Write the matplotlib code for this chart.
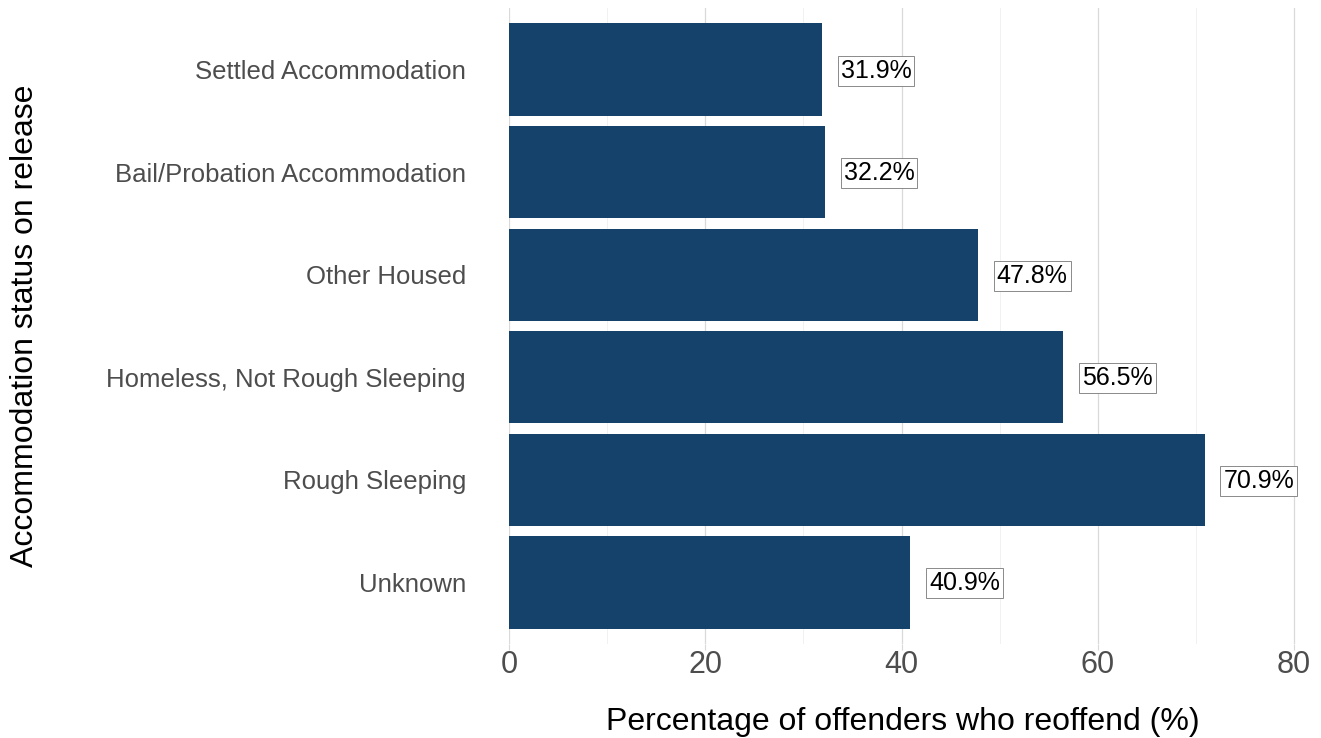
import matplotlib
matplotlib.use("Agg")
import matplotlib.pyplot as plt

# Data
categories = ["Settled Accommodation", "Bail/Probation Accommodation", "Other Housed",
              "Homeless, Not Rough Sleeping", "Rough Sleeping", "Unknown"]
values = [31.9, 32.2, 47.8, 56.5, 70.9, 40.9]
x_ticks = [0, 20, 40, 60, 80]

plt.rcParams['font.family'] = ['Liberation Sans', 'DejaVu Sans']

fig = plt.figure(figsize=(13.21, 7.38), dpi=100)
ax = fig.add_axes([509 / 1321, 1 - 644 / 738, (1300 - 509) / 1321, (644 - 8) / 738])

pos = list(range(len(categories)))
ax.barh(pos, values, height=0.9, color="#15426b", zorder=3)

for p, v in zip(pos, values):
    ax.text(v + 1.9, p + 0.01, f"{v}%", va="center", ha="left", fontsize=18, color="black",
            zorder=4,
            bbox=dict(boxstyle="square,pad=0.12", facecolor="white", edgecolor="#777777",
                      linewidth=0.6))

ax.set_ylim(len(categories) - 0.4, -0.6)
ax.set_xlim(0, 80.6)
ax.set_yticks(pos)
ax.set_yticklabels(categories, fontsize=18.5, color="#4d4d4d")
ax.set_xticks(x_ticks)
ax.set_xticklabels([str(t) for t in x_ticks], fontsize=22, color="#4d4d4d")
ax.set_xticks([10, 30, 50, 70], minor=True)

ax.grid(axis="x", which="major", color="#d9d9d9", linewidth=0.9, zorder=0)
ax.grid(axis="x", which="minor", color="#efefef", linewidth=0.6, zorder=0)
for s in ax.spines.values():
    s.set_visible(False)
ax.tick_params(axis="y", length=0, pad=31)
ax.tick_params(axis="x", which="major", length=4, color="#d9d9d9", pad=0)
ax.tick_params(axis="x", which="minor", length=0)

ax.set_xlabel("Percentage of offenders who reoffend (%)", fontsize=23, va="center")
ax.xaxis.set_label_coords(0.4975, (644 - 722) / 636)
ax.set_ylabel("Accommodation status on release", fontsize=23, va="center")
ax.yaxis.set_label_coords((25 - 509) / 791, 0.5)

fig.savefig("out.png", dpi=100)
